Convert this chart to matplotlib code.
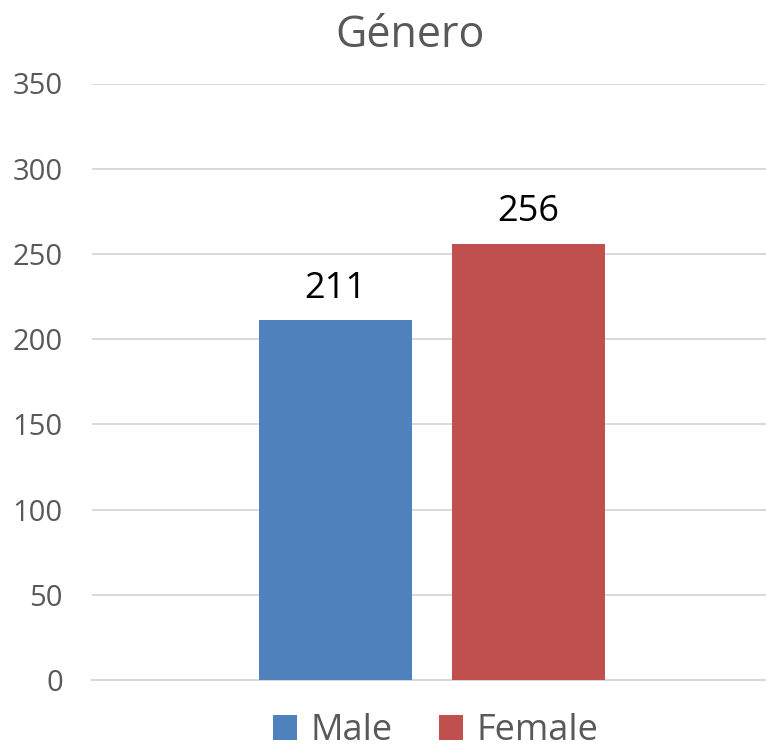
import matplotlib
matplotlib.use("Agg")
import matplotlib.pyplot as plt
from matplotlib.patches import Patch
import numpy as np

title = "Género"
series = ["Male", "Female"]
values = [211, 256]
colors = ["#4F81BD", "#C0504D"]
yticks = [0, 50, 100, 150, 200, 250, 300, 350]

plt.rcParams['font.family'] = ['Open Sans', 'DejaVu Sans']

W, H = 766, 748
fig = plt.figure(figsize=(W / 100, H / 100), dpi=100)
ax = fig.add_axes([92 / W, 68 / H, 680 / W, (680 - 83.5) / H])

width = 153 / 680
offset = (76.5 + 20) / 680
xs = [-offset, offset]
for x, v, c in zip(xs, values, colors):
    ax.bar(x, v, width=width, color=c, zorder=3)
    ax.annotate(str(v), xy=(x, v), xytext=(0, 16), textcoords='offset points',
                ha='center', va='baseline', fontsize=26, color='black')

ax.set_xlim(-0.5, 0.5)
ax.set_ylim(0, 350)
ax.set_yticks(yticks)
ax.set_yticklabels([str(t) for t in yticks], fontsize=21, color='#595959')
ax.set_xticks([])
ax.tick_params(axis='y', length=0, pad=21)
ax.grid(axis='y', color='#d9d9d9', linewidth=1.4, zorder=0)
for s in ['top', 'right', 'left']:
    ax.spines[s].set_visible(False)
ax.spines['bottom'].set_color('#d9d9d9')
ax.spines['bottom'].set_linewidth(1.5)

fig.text(410.5 / W, 1 - 47 / H, title, ha='center', va='baseline',
         fontsize=31, color='#595959')

handles = [Patch(facecolor=c, edgecolor='none') for c in colors]
leg = fig.legend(handles, series, loc='center', bbox_to_anchor=(435.5 / W, 1 - 731 / H),
                 ncol=2, frameon=False, fontsize=26, handlelength=0.67, handleheight=0.67,
                 handletextpad=0.36, columnspacing=1.3, borderpad=0, borderaxespad=0)
for t in leg.get_texts():
    t.set_color('#595959')

fig.savefig("out.png", dpi=100)
